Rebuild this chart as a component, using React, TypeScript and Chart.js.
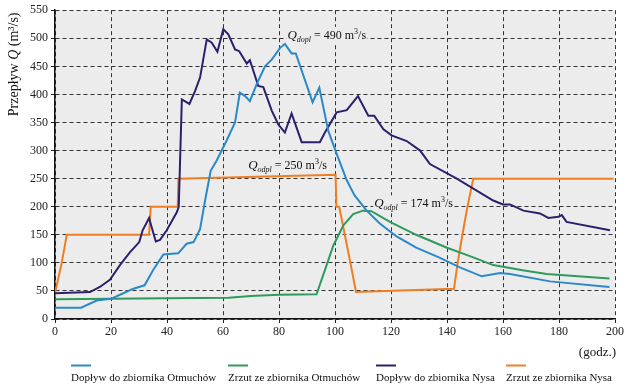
import React, { useEffect, useRef } from "react";
import { Chart, registerables } from "chart.js";

Chart.register(...registerables);

// ---- Data ----
const otmInHours = [0, 9.3, 14.9, 20, 24, 28, 32, 35, 38.7, 44, 47, 49.5, 51.8, 53.6, 55.6, 57.7, 61.3, 64.3, 66, 67.9, 69.6, 72, 75, 77.4, 80.4, 82.1, 84.5, 86, 92, 94.4, 97.6, 100.6, 104.2, 107, 111.3, 116, 122, 129, 137.5, 144.6, 152.4, 159, 162.5, 176.8, 198];
const otmInFlow = [20, 20, 33, 36, 45, 54, 60, 87, 115, 117, 134, 137, 160, 211, 264, 282, 318, 350, 403, 397, 388, 418, 450, 462, 483, 490, 473, 473, 386, 412, 335, 294, 247, 220, 193, 170, 147, 127, 109, 92, 76, 82, 80, 67, 57];

const otmOutHours = [0, 20, 40, 62, 70, 80, 93.4, 96.4, 99.4, 103, 106.5, 110, 113, 119.6, 129, 140, 148.2, 156.5, 160, 167, 175.6, 198];
const otmOutFlow = [35, 36, 37, 38, 41, 43, 44, 87, 131, 167, 187, 193, 192, 173, 150, 127, 112, 96, 93, 87, 80, 72];

const nysaInHours = [0, 12.5, 16, 19.6, 23.2, 26.8, 30.1, 31.3, 33.6, 34.5, 36, 37.5, 39.9, 43.5, 44.2, 45.3, 48, 50, 51.8, 54.2, 56, 58, 60.1, 61.9, 64.3, 65.8, 68.5, 69.6, 72.6, 74.4, 77.4, 79.8, 82.1, 84.5, 88.1, 94.6, 96.4, 100.6, 104.2, 108.2, 111.9, 114, 117.3, 120.2, 125.6, 130.4, 133.9, 143.5, 156.5, 160, 162.5, 167.3, 173.2, 176.2, 179.8, 181, 182.7, 198.2];
const nysaInFlow = [46, 48, 57, 70, 96, 119, 137, 158, 180, 164, 138, 141, 158, 190, 200, 391, 383, 406, 430, 498, 492, 476, 516, 507, 480, 477, 455, 461, 415, 413, 371, 346, 332, 366, 315, 315, 332, 368, 372, 397, 362, 362, 338, 327, 317, 300, 276, 250, 211, 204, 204, 193, 188, 180, 182, 185, 173, 158];

const nysaOutHours = [0, 2.4, 4.2, 33.6, 34.2, 43.8, 44.1, 100.2, 100.5, 101.5, 103.5, 105.5, 107.5, 142.5, 143.8, 145.5, 147.3, 149.4, 199.5];
const nysaOutFlow = [46, 100, 150, 150, 200, 200, 250, 257, 200, 200, 150, 100, 48, 54, 100, 150, 200, 250, 250];

const seriesLabels = [
  "Dopływ do zbiornika Otmuchów",
  "Zrzut ze zbiornika Otmuchów",
  "Dopływ do zbiornika Nysa",
  "Zrzut ze zbiornika Nysa",
];
const seriesColors = ["#2a89c9", "#2f9a5c", "#2c1f6b", "#ef7d22"];

const xMin = 0, xMax = 200, xStep = 20;
const yMin = 0, yMax = 550, yStep = 50;
const yTitleParts = ["Przepływ ", "Q", " (m³/s)"];
const xUnitLabel = "(godz.)";

// annotations: subscript, value text, anchor (hours, flow)
const annSubs = ["dopl", "odpl", "odpl"];
const annValues = ["490", "250", "174"];
const annHours = [83, 69, 114];
const annFlows = [506, 274, 206];

const SERIF = "'Liberation Serif', 'Times New Roman', serif";
const PLOT_BG = "#ececec";

function pts(xs: number[], ys: number[]) {
  return xs.map((x, i) => ({ x, y: ys[i] }));
}

function drawQLabel(ctx: CanvasRenderingContext2D, x: number, yMid: number, sub: string, val: string) {
  const base = yMid + 4;
  const fQ = `italic 13px ${SERIF}`;
  const fS = `italic 8px ${SERIF}`;
  const fR = `12px ${SERIF}`;
  const rest1 = ` = ${val} m`;
  const sup = "3";
  const rest2 = "/s";
  ctx.font = fQ; const wQ = ctx.measureText("Q").width;
  ctx.font = fS; const wS = ctx.measureText(sub).width;
  ctx.font = fR; const w1 = ctx.measureText(rest1).width;
  ctx.font = `8px ${SERIF}`; const wSup = ctx.measureText(sup).width;
  ctx.font = fR; const w2 = ctx.measureText(rest2).width;
  const total = wQ + wS + w1 + wSup + w2;
  ctx.fillStyle = PLOT_BG;
  ctx.fillRect(x - 1, yMid - 8, total + 2, 16);
  ctx.fillStyle = "#111";
  ctx.textBaseline = "alphabetic";
  ctx.textAlign = "left";
  let cx = x;
  ctx.font = fQ; ctx.fillText("Q", cx, base); cx += wQ;
  ctx.font = fS; ctx.fillText(sub, cx, base + 3); cx += wS;
  ctx.font = fR; ctx.fillText(rest1, cx, base); cx += w1;
  ctx.font = `8px ${SERIF}`; ctx.fillText(sup, cx, base - 5); cx += wSup;
  ctx.font = fR; ctx.fillText(rest2, cx, base);
}

const decorPlugin = {
  id: "decor",
  beforeDraw(chart: any) {
    const { ctx, chartArea: a } = chart;
    ctx.save();
    ctx.fillStyle = "#ffffff";
    ctx.fillRect(0, 0, chart.width, chart.height);
    ctx.fillStyle = PLOT_BG;
    ctx.fillRect(a.left, a.top, a.right - a.left, a.bottom - a.top);
    ctx.restore();
  },
  afterDraw(chart: any) {
    const { ctx, chartArea: a } = chart;
    const xs = chart.scales.x;
    const ys = chart.scales.y;
    ctx.save();
    // annotations
    for (let i = 0; i < annSubs.length; i++) {
      drawQLabel(ctx, xs.getPixelForValue(annHours[i]), ys.getPixelForValue(annFlows[i]), annSubs[i], annValues[i]);
    }
    // y title
    ctx.save();
    ctx.translate(14, a.top + 106);
    ctx.rotate(-Math.PI / 2);
    ctx.textBaseline = "middle";
    ctx.textAlign = "left";
    ctx.fillStyle = "#111";
    let cx = 0;
    yTitleParts.forEach((p, i) => {
      ctx.font = i === 1 ? `italic 14px ${SERIF}` : `14px ${SERIF}`;
      ctx.fillText(p, cx, 0);
      cx += ctx.measureText(p).width;
    });
    ctx.restore();
    // x unit
    ctx.font = `13px ${SERIF}`;
    ctx.fillStyle = "#111";
    ctx.textAlign = "right";
    ctx.textBaseline = "middle";
    ctx.fillText(xUnitLabel, a.right + 1, a.bottom + 34);
    // legend
    const legendX = [71, 228, 376, 506];
    ctx.textAlign = "left";
    ctx.font = `11px ${SERIF}`;
    seriesLabels.forEach((lab, i) => {
      ctx.strokeStyle = seriesColors[i];
      ctx.lineWidth = 2;
      ctx.beginPath();
      ctx.moveTo(legendX[i], a.bottom + 46.5);
      ctx.lineTo(legendX[i] + 20, a.bottom + 46.5);
      ctx.stroke();
      ctx.fillStyle = "#111";
      ctx.fillText(lab, legendX[i], a.bottom + 59);
    });
    ctx.restore();
  },
};

export default function App() {
  const ref = useRef<HTMLCanvasElement | null>(null);
  useEffect(() => {
    if (!ref.current) return;
    const series = [
      pts(otmInHours, otmInFlow),
      pts(otmOutHours, otmOutFlow),
      pts(nysaInHours, nysaInFlow),
      pts(nysaOutHours, nysaOutFlow),
    ];
    const chart = new Chart(ref.current, {
      type: "line",
      data: {
        datasets: series.map((d, i) => ({
          label: seriesLabels[i],
          data: d,
          borderColor: seriesColors[i],
          backgroundColor: seriesColors[i],
          borderWidth: 2,
          pointRadius: 0,
          tension: 0,
          fill: false,
        })),
      },
      options: {
        responsive: false,
        animation: false,
        devicePixelRatio: 1,
        layout: { padding: { top: 9, right: 14, left: 0, bottom: 0 } },
        plugins: { legend: { display: false }, tooltip: { enabled: false } },
        font: { family: SERIF },
        scales: {
          x: {
            type: "linear",
            min: xMin,
            max: xMax,
            afterFit: (s: any) => { s.height = 66; },
            ticks: { stepSize: xStep, color: "#222", font: { family: SERIF, size: 12 }, padding: 2, maxRotation: 0 },
            grid: { color: "#333", lineWidth: 1, tickLength: 4, tickColor: "#222" },
            border: { display: true, color: "#111", width: 1.5, dash: [4, 3] },
          },
          y: {
            min: yMin,
            max: yMax,
            afterFit: (s: any) => { s.width = 55; },
            ticks: { stepSize: yStep, color: "#222", font: { family: SERIF, size: 12 }, padding: 3 },
            grid: { color: "#333", lineWidth: 1, tickLength: 4, tickColor: "#222" },
            border: { display: true, color: "#111", width: 1.5, dash: [4, 3] },
          },
        },
      } as any,
      plugins: [decorPlugin],
    });
    return () => chart.destroy();
  }, []);
  return (
    <div style={{ position: "absolute", left: 0, top: 0, width: 629, height: 385 }}>
      <canvas ref={ref} width={629} height={385} />
    </div>
  );
}
